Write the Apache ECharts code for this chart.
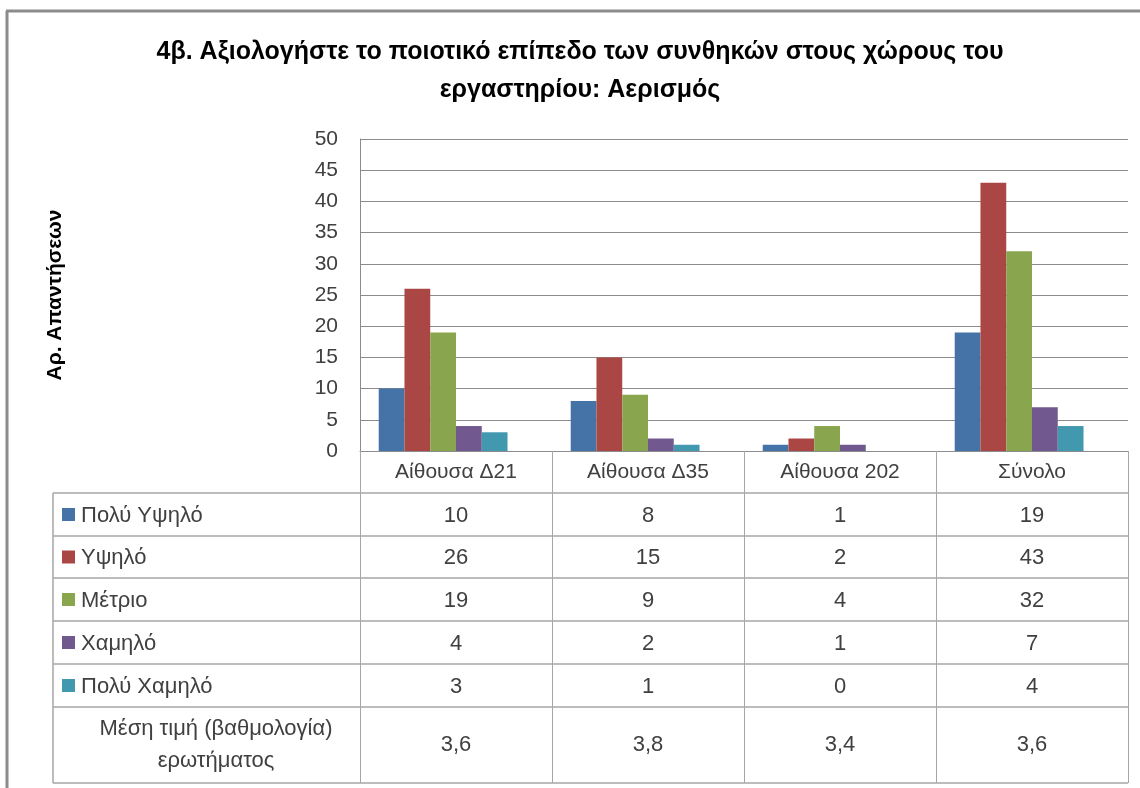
<!DOCTYPE html>
<html>
<head>
<meta charset="utf-8">
<script src="https://cdn.jsdelivr.net/npm/echarts@6/dist/echarts.min.js"></script>
<style>
  html, body { margin: 0; padding: 0; background: #fff; }
  #main { width: 1140px; height: 788px; }
</style>
</head>
<body>
<div id="main"></div>
<script>
// data
var rooms      = ['Αίθουσα Δ21', 'Αίθουσα Δ35', 'Αίθουσα 202', 'Σύνολο'];
var levels     = ['Πολύ Υψηλό', 'Υψηλό', 'Μέτριο', 'Χαμηλό', 'Πολύ Χαμηλό'];
var veryHigh   = [10, 8, 1, 19];
var high       = [26, 15, 2, 43];
var medium     = [19, 9, 4, 32];
var low        = [4, 2, 1, 7];
var veryLow    = [3, 1, 0, 4];
var meanScore  = [3.6, 3.8, 3.4, 3.6];
var meanLabel  = 'Μέση τιμή (βαθμολογία)\nερωτήματος';
var colors     = ['#4572A7', '#AA4643', '#89A54E', '#71588F', '#4198AF'];

var levelValues = [veryHigh, high, medium, low, veryLow];
var font = "'Liberation Sans', Arial, sans-serif";
var textColor = '#404040';
var lineColor = '#8c8c8c';

var chart = echarts.init(document.getElementById('main'));

var series = levels.map(function (name, i) {
    return {
        name: name,
        type: 'bar',
        data: levelValues[i],
        barGap: 0,
        barCategoryGap: '19.5%',
        itemStyle: { color: colors[i] }
    };
});
// Excel keeps a slot for the mean row, with no fill
series.push({
    name: 'Μέση τιμή',
    type: 'bar',
    data: meanScore,
    silent: true,
    itemStyle: { color: 'rgba(0,0,0,0)' }
});

chart.setOption({
    backgroundColor: '#fff',
    animation: false,
    title: {
        text: '4β. Αξιολογήστε το ποιοτικό επίπεδο των συνθηκών στους χώρους του\nεργαστηρίου: Αερισμός',
        left: 575,
        top: 28,
        textAlign: 'center',
        textStyle: {
            fontFamily: font,
            fontWeight: 'bold',
            fontSize: 25,
            lineHeight: 38,
            color: '#000'
        }
    },
    grid: { left: 360, right: 12, top: 139, bottom: 337 },
    xAxis: {
        type: 'category',
        data: rooms,
        axisLine: { lineStyle: { color: lineColor } },
        axisTick: { show: true, length: 332, lineStyle: { color: '#a6a6a6' } },
        axisLabel: { margin: 11, fontFamily: font, fontSize: 21, color: textColor }
    },
    yAxis: {
        type: 'value',
        min: 0,
        max: 50,
        interval: 5,
        name: 'Αρ. Απαντήσεων',
        nameLocation: 'middle',
        nameRotate: 90,
        nameGap: 294,
        nameTextStyle: { fontFamily: font, fontWeight: 'bold', fontSize: 21, color: '#000' },
        axisLine: { show: true, lineStyle: { color: lineColor } },
        axisTick: { show: false },
        axisLabel: { margin: 22, fontFamily: font, fontSize: 21, color: textColor },
        splitLine: { lineStyle: { color: lineColor } }
    },
    series: series
});

// data table under the plot
function buildTable() {
    var rowLines = [493, 536, 578, 621, 664, 707, 783];
    var left = 53, right = 1128;
    var g = [];
    // outer chart border (top and left)
    g.push({ type: 'line', shape: { x1: 6, y1: 11, x2: 1140, y2: 11 }, style: { stroke: lineColor, lineWidth: 3 } });
    g.push({ type: 'line', shape: { x1: 7, y1: 11, x2: 7, y2: 788 }, style: { stroke: lineColor, lineWidth: 3 } });

    rowLines.forEach(function (y) {
        g.push({ type: 'line', shape: { x1: left, y1: y, x2: right, y2: y }, style: { stroke: '#a6a6a6', lineWidth: 1.5 } });
    });
    g.push({ type: 'line', shape: { x1: left, y1: rowLines[0], x2: left, y2: rowLines[6] }, style: { stroke: '#a6a6a6', lineWidth: 1.5 } });

    levels.forEach(function (name, r) {
        var cy = (rowLines[r] + rowLines[r + 1]) / 2;
        g.push({ type: 'rect', shape: { x: 62, y: cy - 6.5, width: 13, height: 13 }, style: { fill: colors[r] } });
        g.push({ type: 'text', x: 81, y: cy + 1, style: { text: name, fontFamily: font, fontSize: 22, fill: textColor, verticalAlign: 'middle' } });
        levelValues[r].forEach(function (v, c) {
            var cx = chart.convertToPixel({ xAxisIndex: 0 }, c);
            g.push({ type: 'text', x: cx, y: cy + 1, style: { text: String(v), fontFamily: font, fontSize: 22, fill: textColor, align: 'center', verticalAlign: 'middle' } });
        });
    });

    var my = (rowLines[5] + rowLines[6]) / 2;
    g.push({ type: 'text', x: 216, y: my, style: { text: meanLabel, fontFamily: font, fontSize: 22, lineHeight: 32, fill: textColor, align: 'center', verticalAlign: 'middle' } });
    meanScore.forEach(function (v, c) {
        var cx = chart.convertToPixel({ xAxisIndex: 0 }, c);
        g.push({ type: 'text', x: cx, y: my, style: { text: String(v).replace('.', ','), fontFamily: font, fontSize: 22, fill: textColor, align: 'center', verticalAlign: 'middle' } });
    });
    chart.setOption({ graphic: g });
}
buildTable();
</script>
</body>
</html>
